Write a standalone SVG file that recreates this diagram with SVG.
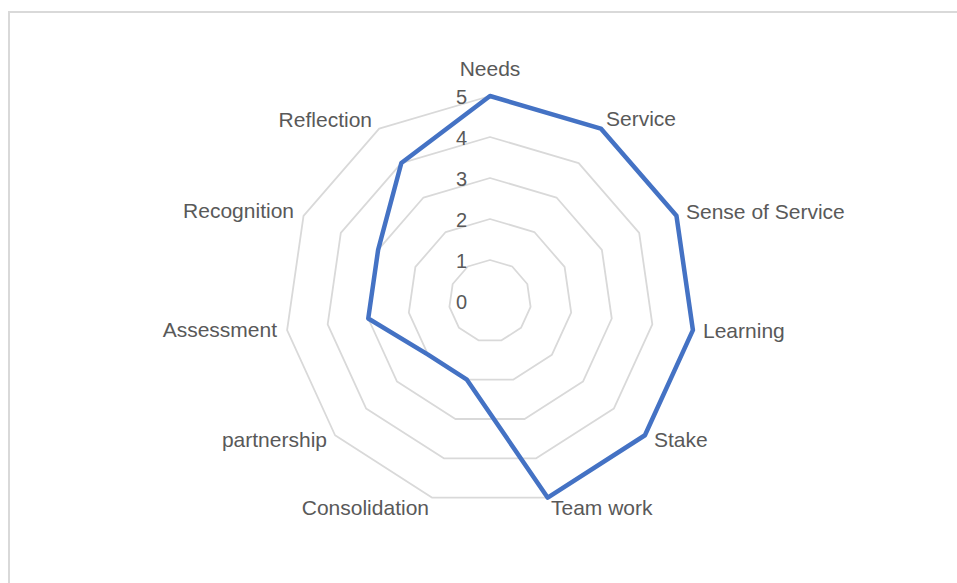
<svg xmlns="http://www.w3.org/2000/svg" width="957" height="583" viewBox="0 0 957 583">
<style>
.ring{fill:none;stroke:#d9d9d9;stroke-width:1.8;stroke-linejoin:round}
.lbl{font-family:"Liberation Sans",Arial,sans-serif;font-size:21px;fill:#595959}
.tick{font-family:"Liberation Sans",Arial,sans-serif;font-size:20px;fill:#595959;text-anchor:end}
.series{fill:none;stroke:#4472c4;stroke-width:4.5;stroke-linejoin:round}
</style>
<rect x="0" y="0" width="957" height="583" fill="#ffffff"/>
<rect x="9" y="12" width="980" height="620" fill="#ffffff" stroke="#d9d9d9" stroke-width="2"/>
<g id="grid">
<polygon class="ring" points="490,260 512.17,266.51 527.29,283.97 530.58,306.83 520.99,327.85 501.55,340.34 478.45,340.34 459.01,327.85 449.42,306.83 452.71,283.97 467.83,266.51"/>
<polygon class="ring" points="490,219 534.33,232.02 564.59,266.94 571.17,312.67 551.97,354.70 513.10,379.68 466.90,379.68 428.03,354.70 408.83,312.67 415.41,266.94 445.67,232.02"/>
<polygon class="ring" points="490,178 556.50,197.53 601.88,249.90 611.75,318.50 582.96,381.55 524.65,419.02 455.35,419.02 397.04,381.55 368.25,318.50 378.12,249.90 423.50,197.53"/>
<polygon class="ring" points="490,137 578.66,163.04 639.18,232.87 652.33,324.34 613.94,408.40 536.20,458.36 443.80,458.36 366.06,408.40 327.67,324.34 340.82,232.87 401.34,163.04"/>
<polygon class="ring" points="490,96 600.83,128.54 676.47,215.84 692.91,330.17 644.93,435.25 547.75,497.70 432.25,497.70 335.07,435.25 287.09,330.17 303.53,215.84 379.17,128.54"/>
</g>
<g id="ticks">
<text class="tick" x="467" y="104">5</text>
<text class="tick" x="467" y="145">4</text>
<text class="tick" x="467" y="186">3</text>
<text class="tick" x="467" y="227">2</text>
<text class="tick" x="467" y="268">1</text>
<text class="tick" x="467" y="309">0</text>
</g>
<g id="connectors">
<polygon class="series" points="490,96 600.83,128.54 676.47,215.84 692.91,330.17 644.93,435.25 547.75,497.70 466.90,379.68 428.03,354.70 368.25,318.50 378.12,249.90 401.34,163.04"/>
</g>
<g id="needs"><text class="lbl" x="490" y="76" text-anchor="middle">Needs</text></g>
<g id="service"><text class="lbl" x="606" y="126">Service</text></g>
<g id="sense-of-service"><text class="lbl" x="686" y="219">Sense of Service</text></g>
<g id="learning"><text class="lbl" x="703" y="338">Learning</text></g>
<g id="stake"><text class="lbl" x="654" y="447">Stake</text></g>
<g id="team-work"><text class="lbl" x="551" y="515">Team work</text></g>
<g id="consolidation"><text class="lbl" x="429" y="515" text-anchor="end">Consolidation</text></g>
<g id="partnership"><text class="lbl" x="327" y="447" text-anchor="end">partnership</text></g>
<g id="assessment"><text class="lbl" x="277" y="337" text-anchor="end">Assessment</text></g>
<g id="recognition"><text class="lbl" x="294" y="218" text-anchor="end">Recognition</text></g>
<g id="reflection"><text class="lbl" x="372" y="127" text-anchor="end">Reflection</text></g>
</svg>
